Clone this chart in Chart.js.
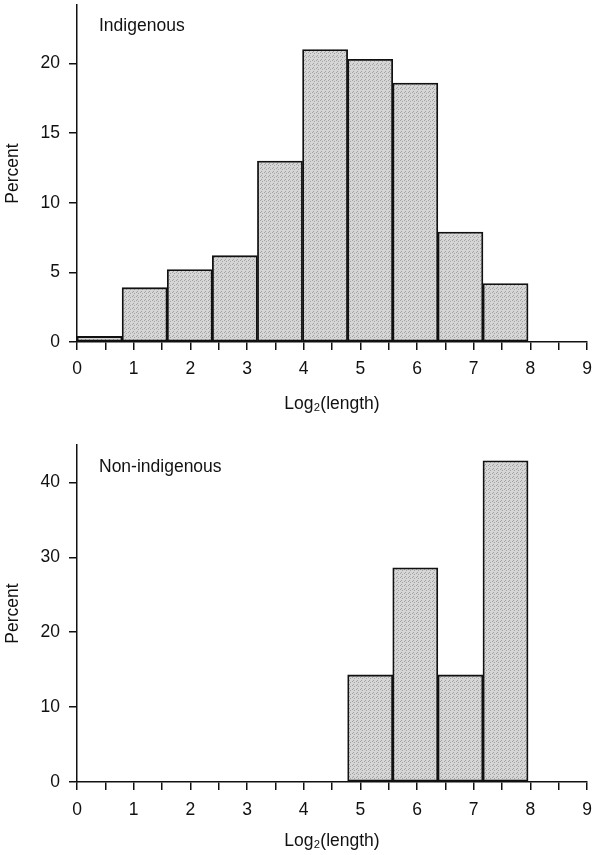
<!DOCTYPE html>
<html>
<head>
<meta charset="utf-8">
<script src="https://cdn.jsdelivr.net/npm/chart.js@4.4.1/dist/chart.umd.min.js"></script>
<style>
  html, body { margin: 0; padding: 0; background: #fff; }
  #wrap { position: relative; width: 592px; height: 855px; }
  #wrap canvas { position: absolute; left: 0; }
</style>
</head>
<body>
<div id="wrap">
  <canvas id="topChart" width="592" height="425" style="top:0"></canvas>
  <canvas id="bottomChart" width="592" height="430" style="top:425px"></canvas>
</div>
<script>
// bin centres on the log2(length) axis, and percent per bin
const binCenters = [0.398, 1.194, 1.99, 2.786, 3.582, 4.378, 5.174, 5.97, 6.766, 7.562];
const indigenousPct = [0.4, 3.9, 5.2, 6.2, 13.0, 21.0, 20.3, 18.6, 7.9, 4.2];
const nonIndigenousPct = [0, 0, 0, 0, 0, 0, 14.3, 28.6, 14.3, 42.9];
const panelNames = ['Indigenous', 'Non-indigenous'];

const FONT = '"Liberation Sans", Arial, Helvetica, sans-serif';
Chart.defaults.font.family = FONT;
Chart.defaults.font.size = 17.5;
Chart.defaults.color = '#111';

// light stippled grey, like the printed figure
function stipple() {
  const c = document.createElement('canvas');
  c.width = 4; c.height = 4;
  const g = c.getContext('2d');
  g.fillStyle = '#d6d6d6';
  g.fillRect(0, 0, 4, 4);
  g.fillStyle = '#a2a2a2';
  g.fillRect(0, 0, 1, 1);
  g.fillRect(2, 1, 1, 1);
  g.fillRect(1, 3, 1, 1);
  return g.createPattern(c, 'repeat');
}

const panelLabel = {
  id: 'panelLabel',
  afterDraw(chart, args, opts) {
    const { ctx, chartArea } = chart;
    ctx.save();
    ctx.font = '17.5px ' + FONT;
    ctx.fillStyle = '#111';
    ctx.textBaseline = 'alphabetic';
    ctx.fillText(opts.text, chartArea.left + opts.dx, chartArea.top + opts.dy);
    ctx.restore();
  }
};

function makeChart(id, values, yMax, yStep, name, lay) {
  return new Chart(document.getElementById(id), {
    type: 'bar',
    data: {
      datasets: [{
        data: binCenters.map((x, i) => ({ x: x, y: values[i] })),
        backgroundColor: stipple(),
        borderColor: '#111',
        borderWidth: 1.8,
        borderSkipped: false,
        barThickness: 'flex',
        categoryPercentage: 1,
        barPercentage: 1
      }]
    },
    plugins: [panelLabel],
    options: {
      responsive: false,
      animation: false,
      layout: { padding: { top: lay.top, right: 5, left: 0, bottom: 0 } },
      plugins: {
        legend: { display: false },
        tooltip: { enabled: false },
        panelLabel: { text: name, dx: 22, dy: lay.labelDy }
      },
      scales: {
        x: {
          type: 'linear',
          min: 0, max: 9,
          offset: false,
          grid: { offset: false, drawOnChartArea: false, drawTicks: true, tickLength: 8, color: '#111', lineWidth: 1.5 },
          border: { display: true, color: '#111', width: 1.5 },
          ticks: {
            stepSize: 0.5, autoSkip: false, maxRotation: 0, padding: lay.tickPad,
            callback: v => Number.isInteger(v) ? String(v) : ''
          },
          title: { display: true, text: 'Log₂(length)', padding: { top: 0, bottom: lay.titlePad } },
          afterFit: s => { s.height = lay.xHeight; s.paddingLeft = 0; s.paddingRight = 4; }
        },
        y: {
          min: 0, max: yMax,
          grid: { drawOnChartArea: false, drawTicks: true, tickLength: 8, color: '#111', lineWidth: 1.5 },
          border: { display: true, color: '#111', width: 1.5 },
          ticks: { stepSize: yStep, includeBounds: false, padding: 9 },
          title: { display: true, text: 'Percent', padding: { top: 3, bottom: 0 } },
          afterFit: s => { s.width = 77; s.paddingTop = 0; s.paddingBottom = 0; }
        }
      }
    }
  });
}

makeChart('topChart', indigenousPct, 24.2, 5, panelNames[0],
  { top: 5, xHeight: 83, tickPad: 9, titlePad: 10, labelDy: 26 });
makeChart('bottomChart', nonIndigenousPct, 45, 10, panelNames[1],
  { top: 20, xHeight: 73, tickPad: 10, titlePad: 3, labelDy: 27 });
</script>
</body>
</html>
